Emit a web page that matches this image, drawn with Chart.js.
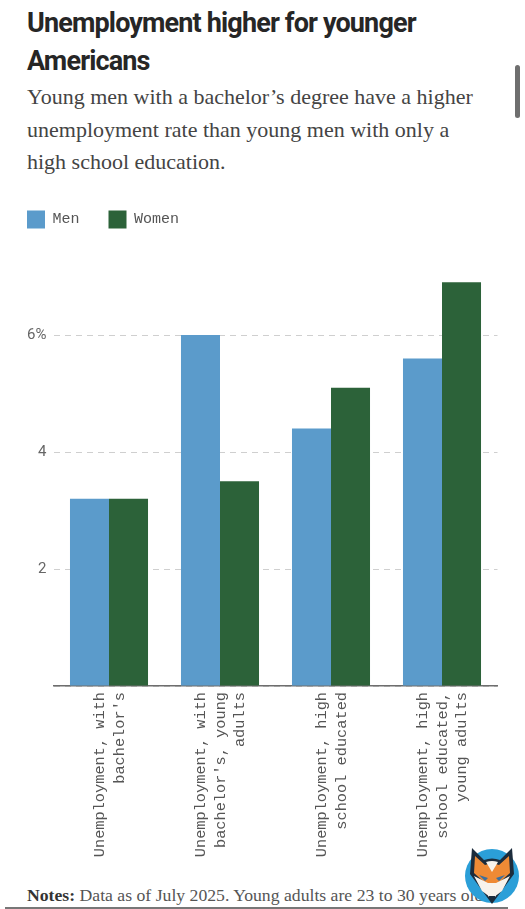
<!DOCTYPE html>
<html>
<head>
<meta charset="utf-8">
<title>Unemployment higher for younger Americans</title>
<script src="https://cdn.jsdelivr.net/npm/chart.js@4"></script>
<style>
html, body { margin: 0; padding: 0; background: #fff; width: 525px; height: 909px; overflow: hidden; }
#title { position: absolute; left: 27px; top: 4px; width: 470px; margin: 0; font: 700 27px/38px Roboto, sans-serif; letter-spacing: -0.85px; color: #262626; }
#sub { position: absolute; left: 27px; top: 81px; width: 455px; margin: 0; font: 400 22px/32.5px "Liberation Serif", serif; color: #444; }
#bar { position: absolute; left: 515px; top: 65px; width: 5px; height: 53px; border-radius: 3px; background: #6f6f6f; }
#wrap { position: absolute; left: -2px; top: 170px; width: 527px; height: 700px; }
#notes { position: absolute; left: 27px; top: 883px; margin: 0; white-space: nowrap; font: 400 17.7px/24px "Liberation Serif", serif; color: #555; }
#notes b { color: #333; }
#edge { position: absolute; left: 5px; top: 907px; width: 503px; height: 2px; background: #777; }
#logo { position: absolute; left: 463px; top: 847px; width: 57px; height: 58px; }
</style>
</head>
<body>
<h1 id="title">Unemployment higher for younger Americans</h1>
<p id="sub">Young men with a bachelor’s degree have a higher unemployment rate than young men with only a high school education.</p>
<div id="bar"></div>
<div id="wrap"><canvas id="chart"></canvas></div>
<p id="notes"><b>Notes:</b> Data as of July 2025. Young adults are 23 to 30 years old</p>
<div id="edge"></div>
<svg id="logo" viewBox="0 0 57 58">
  <circle cx="29" cy="29" r="27" fill="#2b9fd8"/>
  <path d="M9 1 L21 13 Q29 10 37 13 L49 1 L51 27 L29 57 L7 27 Z" fill="#1c2c3c"/>
  <path d="M12 9 L22 18 Q29 15 36 18 L46 9 L47 26 L29 42 L11 26 Z" fill="#ee8a35"/>
  <path d="M23 15 L29 25 L35 15 Q29 13 23 15 Z" fill="#f7f3ec"/>
  <path d="M11 29 L25 36 L27 50 L19 44 Z M47 29 L33 36 L31 50 L39 44 Z" fill="#f7f3ec"/>
  <path d="M16 28 L25 31 L22 34 Z M42 28 L33 31 L36 34 Z" fill="#3b6f9e"/>
  <path d="M25 36 L33 36 L33 50 L25 50 Z" fill="#f7f3ec"/>
  <path d="M25 49 L33 49 L29 54 Z" fill="#1c2c3c"/>
</svg>
<script>
var categories = [
   ['Unemployment, with', "bachelor's"],
   ['Unemployment, with', "bachelor's, young", 'adults'],
   ['Unemployment, high', 'school educated'],
   ['Unemployment, high', 'school educated,', 'young adults']
];
var menValues = [3.2, 6.0, 4.4, 5.6];
var womenValues = [3.2, 3.5, 5.1, 6.9];
var seriesNames = ['Men', 'Women'];
var yTickValues = [2, 4, 6];

// push the plot down away from the legend
var legendGap = {
   id: 'legendGap',
   beforeInit: function(chart) {
      var fit = chart.legend.fit;
      chart.legend.fit = function() {
         fit.call(this);
         this.height += 38;
      };
   }
};

// rotated labels start at the tick, center the wrapped lines on it instead
var centerLabels = {
   id: 'centerLabels',
   beforeDraw: function(chart) {
      chart.scales.x.getLabelItems().forEach(function(item) {
         var lines = item.label.length;
         item.textOffset = -(lines - 1) * item.font.lineHeight / 2;
      });
   }
};

var ctx = document.getElementById('chart');
new Chart(ctx, {
   type: 'bar',
   data: {
      labels: categories,
      datasets: [{
         label: seriesNames[0],
         data: menValues,
         backgroundColor: '#5b9bcb'
      }, {
         label: seriesNames[1],
         data: womenValues,
         backgroundColor: '#2c6239'
      }]
   },
   plugins: [legendGap, centerLabels],
   options: {
      responsive: true,
      maintainAspectRatio: false,
      animation: false,
      categoryPercentage: 0.703,
      barPercentage: 1,
      layout: { padding: { top: 11.5, right: 27.5, bottom: 0, left: 0 } },
      plugins: {
         tooltip: { enabled: false },
         legend: {
            position: 'top',
            align: 'start',
            labels: {
               boxWidth: 18,
               boxHeight: 18,
               padding: 29,
               color: '#555',
               font: { family: '"Liberation Mono", monospace', size: 15 }
            }
         }
      },
      scales: {
         x: {
            grid: { display: false },
            border: { color: '#6e6e6e', width: 1.5 },
            afterFit: function(scale) { scale.height = 184; },
            ticks: {
               minRotation: 90,
               maxRotation: 90,
               autoSkip: false,
               padding: -2,
               labelOffset: 10.5,
               color: '#555',
               font: { family: '"Liberation Mono", monospace', size: 15.3, lineHeight: 1.27 }
            }
         },
         y: {
            min: 0,
            max: 7,
            grid: { color: '#cfcfcf', lineWidth: 1, drawTicks: false },
            border: { display: false, dash: [6, 5] },
            afterFit: function(scale) { scale.width = 55.5; },
            ticks: {
               stepSize: 2,
               includeBounds: false,
               padding: 7,
               color: '#666',
               font: { family: 'Roboto, sans-serif', size: 15 },
               callback: function(value) {
                  if (yTickValues.indexOf(value) < 0) return '';
                  return value === 6 ? value + '%' : value;
               }
            }
         }
      }
   }
});
</script>
</body>
</html>
